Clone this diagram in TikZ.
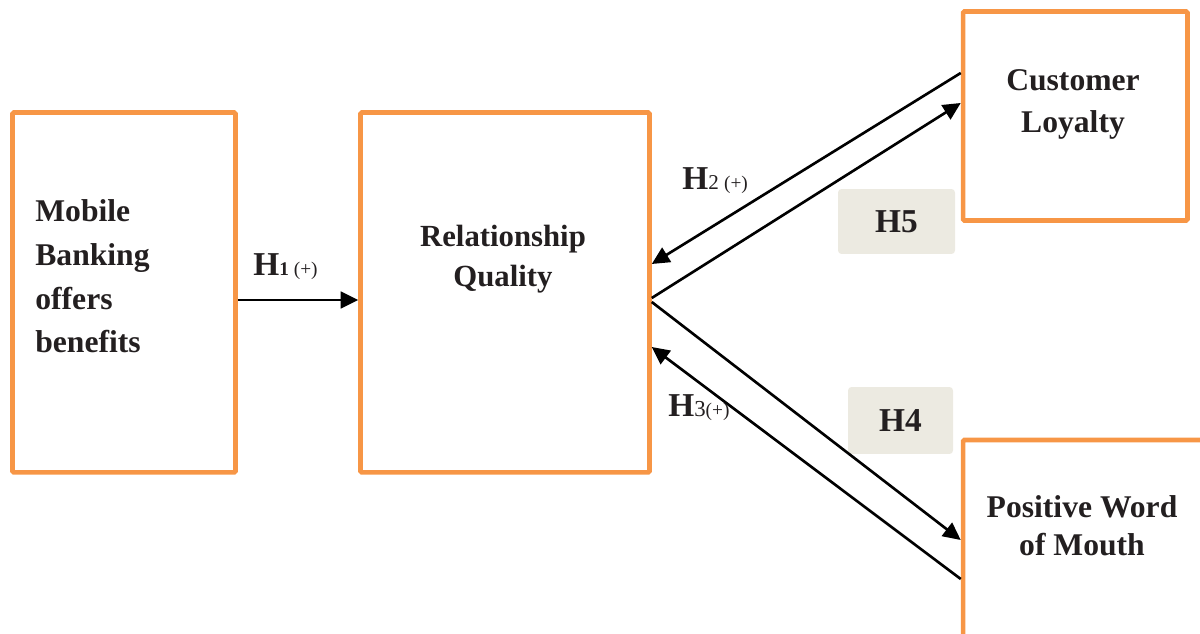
\documentclass[tikz,border=0pt]{standalone}
\usepackage{fontspec}
\setmainfont{Liberation Serif}
\usepackage{xcolor}
\usetikzlibrary{
	positioning,    % posizionamento relativo
	arrows.meta,    % punte di freccia
	calc
}
\definecolor{arancio}{HTML}{F79646}
\definecolor{grigio}{HTML}{ECEAE1}
\definecolor{testo}{HTML}{231F20}

\begin{document}
\begin{tikzpicture}[
				x=0.02cm, y=-0.02cm,
				riquadro/.style={draw=arancio, line width=2.6pt, rounded corners=0.8pt, inner sep=0pt},
				etichetta/.style={font=\fontsize{18}{24}\selectfont\bfseries, text=testo, inner sep=0pt},
				ipotesi/.style={fill=grigio, rounded corners=2pt, inner sep=0pt, text=testo,
					font=\fontsize{19}{22}\selectfont\bfseries},
				freccia/.style={-{Triangle[length=10pt, width=9.5pt]}, line width=1.5pt}
				]
				
				\useasboundingbox (0,0) rectangle (1200,634);
				
				% --- Riquadri ---
				\node[riquadro, minimum width=4.46cm, minimum height=7.2cm] (mob) at (124,292.5) {};
				\node[riquadro, minimum width=5.78cm, minimum height=7.2cm] (rq) at (505,292.5) {};
				\node[riquadro, minimum width=4.49cm, minimum height=4.18cm] (cl) at (1075.25,116) {};
				\node[riquadro, minimum width=4.84cm, minimum height=5.2cm] (pwm) at (1084,570) {};
				
				% --- Testi dei riquadri (ancorati alla base dell'ultima riga) ---
				\node[etichetta, font=\fontsize{18}{25}\selectfont\bfseries, align=left, anchor=base west]
					(mobtext) at (35,353) {Mobile\\Banking\\offers\\benefits};
				\node[etichetta, font=\fontsize{17.5}{23.3}\selectfont\bfseries, align=center, anchor=base]
					(rqtext) at (503,287) {Relationship\\Quality};
				\node[etichetta, align=center, anchor=base] (cltext) at (1073,133) {Customer\\Loyalty};
				\node[etichetta, font=\fontsize{18}{22}\selectfont\bfseries, align=center, anchor=base]
					(pwmtext) at (1082,556) {Positive Word\\of Mouth};
				
				% --- Ipotesi H4, H5 ---
				\node[ipotesi, minimum width=2.34cm, minimum height=1.3cm] (h5) at (896.5,221.5) {H5};
				\node[ipotesi, minimum width=2.1cm, minimum height=1.34cm] (h4) at (900.5,420.5) {H4};
				
				% --- Frecce ---
				\draw[freccia] (mob.east |- 0,300) -- (rq.west |- 0,300);
				\draw[freccia] (cl.west |- 0,73) -- (rq.east |- 0,264);
				\draw[freccia] (rq.east |- 0,298) -- (cl.west |- 0,103);
				\draw[freccia] (rq.east |- 0,302) -- (pwm.west |- 0,540);
				\draw[freccia] (pwm.west |- 0,579) -- (rq.east |- 0,347);
				
				% --- Etichette H1, H2, H3 ---
				\node[etichetta, anchor=base west] (h1) at (253,276)
					{\fontsize{19}{22}\selectfont H\fontsize{11}{13}\selectfont 1 \mdseries(+)};
				\node[etichetta, anchor=base west] (h2) at (682,190)
					{\fontsize{19}{22}\selectfont H\mdseries\fontsize{12}{14}\selectfont 2 \fontsize{11}{13}\selectfont(+)};
				\node[etichetta, anchor=base west] (h3) at (668,417)
					{\fontsize{19}{22}\selectfont H\mdseries\fontsize{13}{15}\selectfont 3\fontsize{11}{13}\selectfont(+)};
				
			\end{tikzpicture}
\end{document}
